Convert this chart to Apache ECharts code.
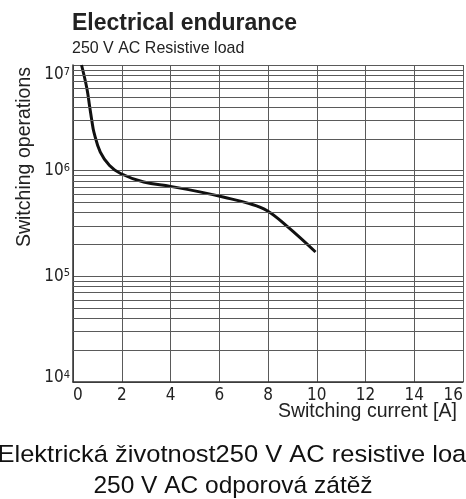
<!DOCTYPE html>
<html>
<head>
<meta charset="utf-8">
<script src="https://cdn.jsdelivr.net/npm/echarts@6/dist/echarts.min.js"></script>
<style>
  html, body { margin: 0; padding: 0; background: #fff; }
  #chart { width: 466px; height: 499px; }
</style>
</head>
<body>
<div id="chart"></div>
<script>
// switching current [A] and switching operations
const current = [0.35, 0.57, 0.68, 0.78, 0.86, 1.12, 1.5, 1.95, 2.9, 4.0, 5.2, 6.2, 7.2, 7.95, 8.8, 9.95]
const operations = [1e7, 6e6, 4.1e6, 2.9e6, 2.3e6, 1.5e6, 1.12e6, 9.4e5, 7.8e5, 7.1e5, 6.3e5, 5.6e5, 4.9e5, 4.2e5, 2.95e5, 1.7e5]

// log grid helpers (2..9 of each decade)
const decades = [1e4, 1e5, 1e6]
const minorSteps = [2, 3, 4, 5, 6, 7, 8, 9]

const titleText = 'Electrical endurance'
const subText = '250 V AC Resistive load'
const xName = 'Switching current [A]'
const yName = 'Switching operations'
const caption1 = 'Elektrická životnost250 V AC resistive load'
const caption2 = '250 V AC odporová zátěž'

const sans = '"Liberation Sans", Arial, sans-serif'
const narrow = '"DejaVu Sans Condensed", "Liberation Sans", sans-serif'
const gridColor = '#5a5a5a'
const textColor = '#222'

const chart = echarts.init(document.getElementById('chart'))

const minorLines = []
decades.forEach(function (d) {
  minorSteps.forEach(function (s) {
    minorLines.push({ yAxis: d * s })
  })
})

const option = {
  animation: false,
  graphic: [
    {
      type: 'text',
      x: 72,
      y: 12,
      style: { text: titleText, font: 'bold 23px ' + sans, fill: textColor },
    },
    {
      type: 'text',
      x: 72,
      y: 40,
      scaleX: 0.94,
      style: { text: subText, font: '17px ' + sans, fill: textColor },
    },
    {
      type: 'text',
      x: 14,
      y: 157,
      rotation: Math.PI / 2,
      scaleX: 0.93,
      style: {
        text: yName,
        font: '21px ' + sans,
        fill: textColor,
        textAlign: 'center',
        textVerticalAlign: 'top',
      },
    },
    {
      type: 'text',
      x: 457,
      y: 411,
      scaleX: 0.93,
      style: {
        text: xName,
        font: '21px ' + sans,
        fill: textColor,
        textAlign: 'right',
        textVerticalAlign: 'middle',
      },
    },
    {
      type: 'text',
      x: 239,
      y: 455,
      scaleX: 1.04,
      style: {
        text: caption1,
        font: '24.5px ' + sans,
        fill: '#111',
        textAlign: 'center',
        textVerticalAlign: 'middle',
      },
    },
    {
      type: 'text',
      x: 233,
      y: 486,
      style: {
        text: caption2,
        font: '24.5px ' + sans,
        fill: '#111',
        textAlign: 'center',
        textVerticalAlign: 'middle',
      },
    },
  ],
  grid: {
    left: 73,
    right: 3,
    top: 65,
    bottom: 117,
    containLabel: false,
    outerBoundsMode: 'none',
  },
  xAxis: {
    type: 'value',
    min: 0,
    max: 16,
    interval: 2,
    axisLine: { lineStyle: { color: '#333', width: 1.5 } },
    axisTick: { show: false },
    axisLabel: {
      fontFamily: narrow,
      fontSize: 17,
      color: textColor,
      margin: 5,
      alignMinLabel: 'left',
      alignMaxLabel: 'right',
    },
    splitLine: { show: true, lineStyle: { color: gridColor, width: 1 } },
  },
  yAxis: {
    type: 'log',
    min: 1e4,
    max: 1e7,
    logBase: 10,
    axisLine: { show: true, lineStyle: { color: '#333', width: 1.5 } },
    axisTick: { show: false },
    axisLabel: {
      margin: 3,
      formatter: function (v) {
        const p = Math.round(Math.log10(v))
        if (p === 7) return '{nt|10}{st|' + p + '}'
        if (p === 4) return '{nb|10}{sb|' + p + '}'
        return '{n|10}{s|' + p + '}'
      },
      rich: {
        n: { fontFamily: narrow, fontSize: 17, color: textColor },
        s: { fontFamily: narrow, fontSize: 11, color: textColor, verticalAlign: 'top' },
        nt: { fontFamily: narrow, fontSize: 17, color: textColor, padding: [20, 0, 0, 0] },
        st: { fontFamily: narrow, fontSize: 11, color: textColor, verticalAlign: 'top', padding: [20, 0, 0, 0] },
        nb: { fontFamily: narrow, fontSize: 17, color: textColor, padding: [0, 0, 8, 0] },
        sb: { fontFamily: narrow, fontSize: 11, color: textColor, verticalAlign: 'top' },
      },
    },
    splitLine: { show: true, lineStyle: { color: gridColor, width: 1 } },
  },
  series: [
    {
      type: 'line',
      data: [],
      silent: true,
      z: 1,
      markLine: {
        silent: true,
        symbol: 'none',
        label: { show: false },
        lineStyle: { color: gridColor, width: 1, type: 'solid' },
        data: minorLines,
      },
    },
    {
      type: 'line',
      z: 3,
      data: current.map(function (c, i) {
        return [c, operations[i]]
      }),
      showSymbol: false,
      smooth: 0.4,
      lineStyle: { color: '#111', width: 3 },
    },
  ],
}

chart.setOption(option)
</script>
</body>
</html>
